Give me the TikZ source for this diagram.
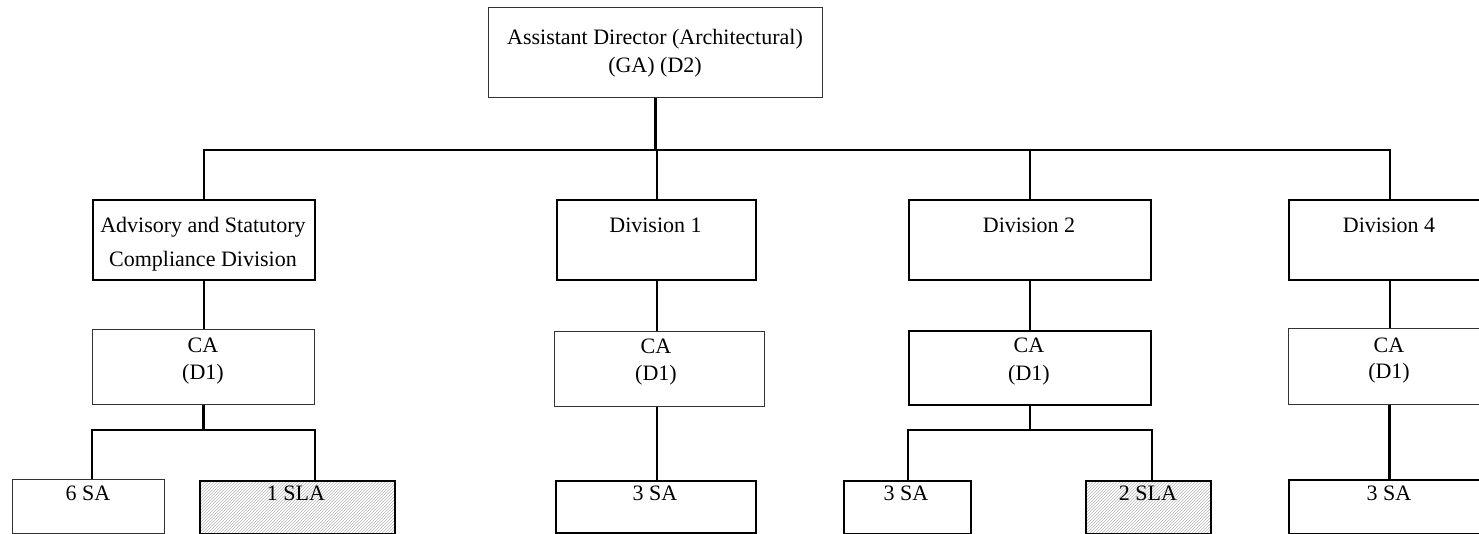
\documentclass[tikz,border=0pt]{standalone}
\usepackage{fontspec}
\setmainfont{Liberation Serif}
\usetikzlibrary{patterns}
\begin{document}
\begin{tikzpicture}[x=1pt,y=-1pt,
  box/.style={draw, line width=2.2pt, inner sep=0pt, anchor=north west},
  thinbox/.style={draw=black!80, line width=1pt, inner sep=0pt, anchor=north west},
  hatch/.style={pattern=north east lines, pattern color=black!28},
  txt/.style={anchor=base, inner sep=0pt, font=\fontsize{22}{27}\selectfont},
  conn/.style={line width=2.2pt}]
\useasboundingbox (0,0) rectangle (1479,534);
% top
\node[thinbox, minimum width=334pt, minimum height=90pt] (top) at (488,7) {};
\node[txt] (topa) at (655,45) {Assistant Director (Architectural)};
\node[txt] (topb) at (655,73) {(GA) (D2)};
% divisions
\node[box, minimum width=222pt, minimum height=80pt] (asc) at (92,199) {};
\node[txt] (asca) at (203,233) {Advisory and Statutory};
\node[txt] (ascb) at (203,267) {Compliance Division};
\node[box, minimum width=199pt, minimum height=80pt] (div1) at (556,199) {};
\node[txt] (div1t) at (655.5,233) {Division 1};
\node[box, minimum width=242pt, minimum height=80pt] (div2) at (908,199) {};
\node[txt] (div2t) at (1029,233) {Division 2};
\node[box, minimum width=202pt, minimum height=80pt] (div4) at (1288,199) {};
\node[txt] (div4t) at (1389,233) {Division 4};
% CA
\node[thinbox, minimum width=222pt, minimum height=75pt] (caA) at (92,329) {};
\node[txt] (caAa) at (203,352) {CA};
\node[txt] (caAb) at (203,379) {(D1)};
\node[thinbox, minimum width=210pt, minimum height=75pt] (ca1) at (554,331) {};
\node[txt] (ca1a) at (656,353) {CA};
\node[txt] (ca1b) at (656,380) {(D1)};
\node[box, minimum width=242pt, minimum height=74pt] (ca2) at (908,330) {};
\node[txt] (ca2a) at (1029,352) {CA};
\node[txt] (ca2b) at (1029,380) {(D1)};
\node[thinbox, minimum width=202pt, minimum height=76pt] (ca4) at (1288,328) {};
\node[txt] (ca4a) at (1389,352) {CA};
\node[txt] (ca4b) at (1389,378) {(D1)};
% leaves
\node[thinbox, minimum width=152pt, minimum height=54pt] (sa6) at (12,479) {};
\node[txt] (sa6t) at (88,500) {6 SA};
\node[box, hatch, minimum width=195pt, minimum height=53pt] (sla1) at (199,480) {};
\node[txt] (sla1t) at (296,500) {1 SLA};
\node[box, minimum width=200pt, minimum height=52pt] (sa1) at (555,480) {};
\node[txt] (sa1t) at (655,500) {3 SA};
\node[box, minimum width=127pt, minimum height=53pt] (sa2) at (843,480) {};
\node[txt] (sa2t) at (906,500) {3 SA};
\node[box, hatch, minimum width=125pt, minimum height=53pt] (sla2) at (1085,480) {};
\node[txt] (sla2t) at (1148,500) {2 SLA};
\node[box, minimum width=202pt, minimum height=54pt] (sa4) at (1288,479) {};
\node[txt] (sa4t) at (1389,500) {3 SA};
% connectors
\coordinate (bus) at (0,150);
\draw[conn] (top.south) -- (top.south |- bus);
\draw[conn] (asc.north) -- (asc.north |- bus) -- (div4.north |- bus) -- (div4.north);
\draw[conn] (div1.north) -- (div1.north |- bus);
\draw[conn] (div2.north) -- (div2.north |- bus);
\draw[conn] (asc.south) -- (asc.south |- caA.north);
\draw[conn] (div1.south) -- (div1.south |- ca1.north);
\draw[conn] (div2.south) -- (div2.south |- ca2.north);
\draw[conn] (div4.south) -- (div4.south |- ca4.north);
\coordinate (lbus) at (0,430);
\draw[conn] (caA.south) -- (caA.south |- lbus);
\draw[conn] (caA.south west |- sa6.north) -- (caA.south west |- lbus) -- (caA.south east |- lbus) -- (caA.south east |- sla1.north);
\draw[conn] (ca1.south -| div1.south) -- (div1.south |- sa1.north);
\draw[conn] (ca2.south) -- (ca2.south |- lbus);
\draw[conn] (ca2.south west |- sa2.north) -- (ca2.south west |- lbus) -- (ca2.south east |- lbus) -- (ca2.south east |- sla2.north);
\draw[conn] (ca4.south) -- (ca4.south |- sa4.north);
\end{tikzpicture}
\end{document}
